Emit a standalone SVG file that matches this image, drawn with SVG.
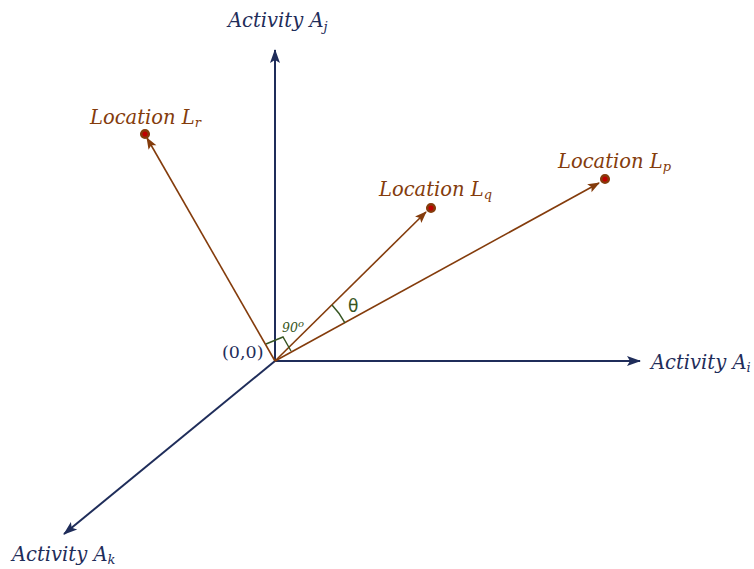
<svg xmlns="http://www.w3.org/2000/svg" width="754" height="569" viewBox="0 0 754 569">
<defs>
<style>
.ax{stroke:#1f2d5a;stroke-width:2;fill:none}
.loc{stroke:#843c0c;stroke-width:1.6;fill:none}
.lbl{font-family:"DejaVu Serif","Liberation Serif",serif;font-style:italic;font-size:19.5px}
.nav{fill:#1f2d5a}
.brn{fill:#843c0c}
.dot{fill:#c00000;stroke:#843c0c;stroke-width:2.5}
</style>
<marker id="ah" viewBox="0 0 14 10" refX="13" refY="5" markerWidth="14" markerHeight="10" markerUnits="userSpaceOnUse" orient="auto" overflow="visible">
<path d="M0,0 L14,5 L0,10 L3,5 Z" fill="#1f2d5a"/>
</marker>
<marker id="bh" viewBox="0 0 12 9" refX="11" refY="4.5" markerWidth="12" markerHeight="9" markerUnits="userSpaceOnUse" orient="auto" overflow="visible">
<path d="M0,0 L12,4.5 L0,9 L2.5,4.5 Z" fill="#843c0c"/>
</marker>
</defs>
<rect width="754" height="569" fill="#fff"/>
<g id="connectors">
<line class="ax" x1="275" y1="361" x2="275" y2="50" marker-end="url(#ah)"/>
<line class="ax" x1="275" y1="361" x2="640" y2="361" marker-end="url(#ah)"/>
<line class="ax" x1="275" y1="361" x2="64" y2="534" marker-end="url(#ah)"/>
<line class="loc" x1="275" y1="361" x2="147" y2="138" marker-end="url(#bh)"/>
<line class="loc" x1="275" y1="361" x2="426" y2="212" marker-end="url(#bh)"/>
<line class="loc" x1="275" y1="361" x2="599" y2="183" marker-end="url(#bh)"/>
</g>
<g id="angle-right">
<polyline points="266,344 283,337 291,351" fill="none" stroke="#375623" stroke-width="1.4"/>
<text x="282" y="332" font-family="DejaVu Serif, serif" font-style="italic" font-size="12.5" fill="#375623">90<tspan dy="-5" font-size="10">o</tspan></text>
</g>
<g id="angle-theta">
<path d="M332,305 A80,80 0 0 1 345,323" fill="none" stroke="#375623" stroke-width="1.6"/>
<text x="348" y="312" font-family="DejaVu Sans, sans-serif" font-size="17" fill="#375623">θ</text>
</g>
<g id="origin"><text x="222" y="358" font-family="DejaVu Serif, serif" font-size="17.5" class="nav">(0,0)</text></g>
<g id="axis-j"><text class="lbl nav" x="228" y="27">Activity A<tspan font-size="13" dy="4">j</tspan></text></g>
<g id="axis-i"><text class="lbl nav" x="651" y="369">Activity A<tspan font-size="13" dy="3">i</tspan></text></g>
<g id="axis-k"><text class="lbl nav" x="12" y="561">Activity A<tspan font-size="13" dy="3">k</tspan></text></g>
<g id="loc-r"><circle class="dot" cx="145" cy="134" r="3.8"/><text class="lbl brn" x="90" y="124">Location L<tspan font-size="13" dy="3">r</tspan></text></g>
<g id="loc-q"><circle class="dot" cx="431" cy="208" r="3.8"/><text class="lbl brn" x="379" y="196">Location L<tspan font-size="13" dy="3">q</tspan></text></g>
<g id="loc-p"><circle class="dot" cx="605" cy="179" r="3.8"/><text class="lbl brn" x="558" y="168">Location L<tspan font-size="13" dy="3">p</tspan></text></g>
</svg>
